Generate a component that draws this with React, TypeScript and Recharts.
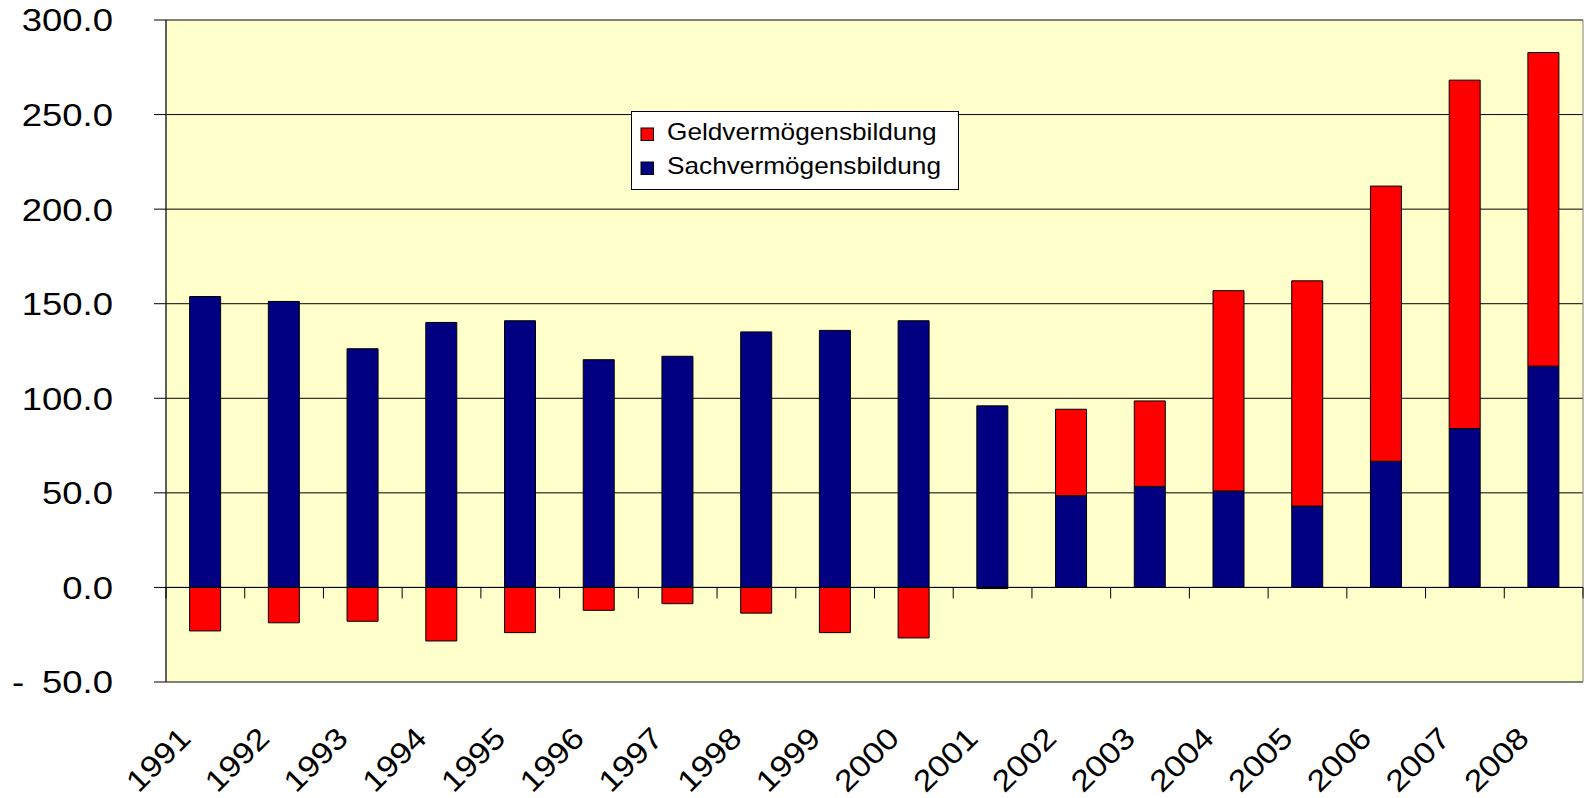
import React from 'react';
import { BarChart, Bar, XAxis, YAxis, CartesianGrid, ReferenceLine, ReferenceArea, Legend } from 'recharts';

const years = ['1991', '1992', '1993', '1994', '1995', '1996', '1997', '1998', '1999', '2000', '2001', '2002', '2003', '2004', '2005', '2006', '2007', '2008'];
const sachValues = [153.8, 151.2, 126.2, 140.1, 141.0, 120.4, 122.2, 135.1, 135.9, 141.0, 96.0, 48.5, 53.4, 51.0, 43.0, 66.7, 84.0, 117.0];
const geldValues = [-23.0, -18.7, -17.9, -28.3, -23.9, -12.1, -8.6, -13.6, -23.9, -26.7, -0.6, 45.7, 45.2, 105.9, 119.1, 145.5, 184.2, 165.8];
const yTicks = [-50, 0, 50, 100, 150, 200, 250, 300];
const geldName = 'Geldvermögensbildung';
const sachName = 'Sachvermögensbildung';

const data = years.map((y, i) => ({ year: y, sach: sachValues[i], geld: geldValues[i] }));

const FONT = '"Liberation Sans", Arial, sans-serif';
const SX = 1.14;

const YTick = (props: any) => {
  const { x, y, payload } = props;
  const v = payload.value as number;
  const txt = Math.abs(v).toFixed(1);
  return (
    <g>
      {v < 0 && (
        <g transform={`translate(${x - 101},${y}) scale(${SX},1)`}>
          <text x={0} y={0} dy="0.355em" textAnchor="start" fontFamily={FONT} fontSize={32} fill="#000">-</text>
        </g>
      )}
      <g transform={`translate(${x},${y}) scale(${SX},1)`}>
        <text x={0} y={0} dy="0.355em" textAnchor="end" fontFamily={FONT} fontSize={32} fill="#000">{txt}</text>
      </g>
    </g>
  );
};

const XTick = (props: any) => {
  const { x, y, payload } = props;
  return (
    <g transform={`translate(${x - 13},${y + 58}) rotate(-45) scale(${SX},1)`}>
      <text x={0} y={0} textAnchor="end" fontFamily={FONT} fontSize={30} fill="#000">{payload.value}</text>
    </g>
  );
};

const ZeroAxis = (props: any) => {
  const { x1, x2, y1 } = props;
  const n = years.length;
  const step = (x2 - x1) / n;
  const ticks = [];
  for (let i = 0; i <= n; i++) {
    const tx = x1 + i * step;
    ticks.push(<line key={i} x1={tx} x2={tx} y1={y1} y2={y1 + 11} stroke="#000" strokeWidth={1} />);
  }
  return (
    <g>
      <line x1={x1} x2={x2} y1={y1} y2={y1} stroke="#000" strokeWidth={1} />
      {ticks}
    </g>
  );
};

const LegendBox = () => (
  <svg width={328} height={79} style={{ display: 'block' }}>
    <rect x={0.5} y={0.5} width={327} height={78} fill="#fff" stroke="#000" />
    <rect x={10} y={17} width={12.5} height={12.5} fill="#FF0000" stroke="#000" />
    <g transform={`translate(36,29) scale(${SX},1)`}>
      <text x={0} y={0} fontFamily={FONT} fontSize={23} fill="#000">{geldName}</text>
    </g>
    <rect x={10} y={51} width={12.5} height={12.5} fill="#000080" stroke="#000" />
    <g transform={`translate(36,63) scale(${SX},1)`}>
      <text x={0} y={0} fontFamily={FONT} fontSize={23} fill="#000">{sachName}</text>
    </g>
  </svg>
);

export default function App() {
  return (
    <div style={{ position: 'absolute', left: 0, top: 0, background: '#fff' }}>
      <BarChart
        width={1584}
        height={798}
        data={data}
        stackOffset="sign"
        barCategoryGap="30%"
        margin={{ top: 20, right: 1, bottom: 0, left: 0 }}
      >
        <CartesianGrid vertical={false} stroke="#000" fill="#FFFFCC" fillOpacity={1} />
        <ReferenceArea y1={-50} y2={300} fill="none" stroke="#808080" strokeWidth={1} />
        <XAxis
          dataKey="year"
          axisLine={false}
          tickLine={false}
          tickSize={0}
          tickMargin={0}
          height={116}
          interval={0}
          tick={<XTick />}
        />
        <YAxis
          domain={[-50, 300]}
          ticks={yTicks}
          width={166}
          tickSize={12}
          tickMargin={41}
          axisLine={{ stroke: '#000' }}
          tickLine={{ stroke: '#000' }}
          tick={<YTick />}
          interval={0}
        />
        <Bar dataKey="sach" name={sachName} stackId="a" fill="#000080" stroke="#000" strokeWidth={1} isAnimationActive={false} />
        <Bar dataKey="geld" name={geldName} stackId="a" fill="#FF0000" stroke="#000" strokeWidth={1} isAnimationActive={false} />
        <ReferenceLine y={0} shape={<ZeroAxis />} />
        <Legend
          layout="horizontal"
          verticalAlign="middle"
          align="center"
          content={<LegendBox />}
          wrapperStyle={{ left: 631, top: 111, width: 328, height: 79 }}
        />
      </BarChart>
    </div>
  );
}
